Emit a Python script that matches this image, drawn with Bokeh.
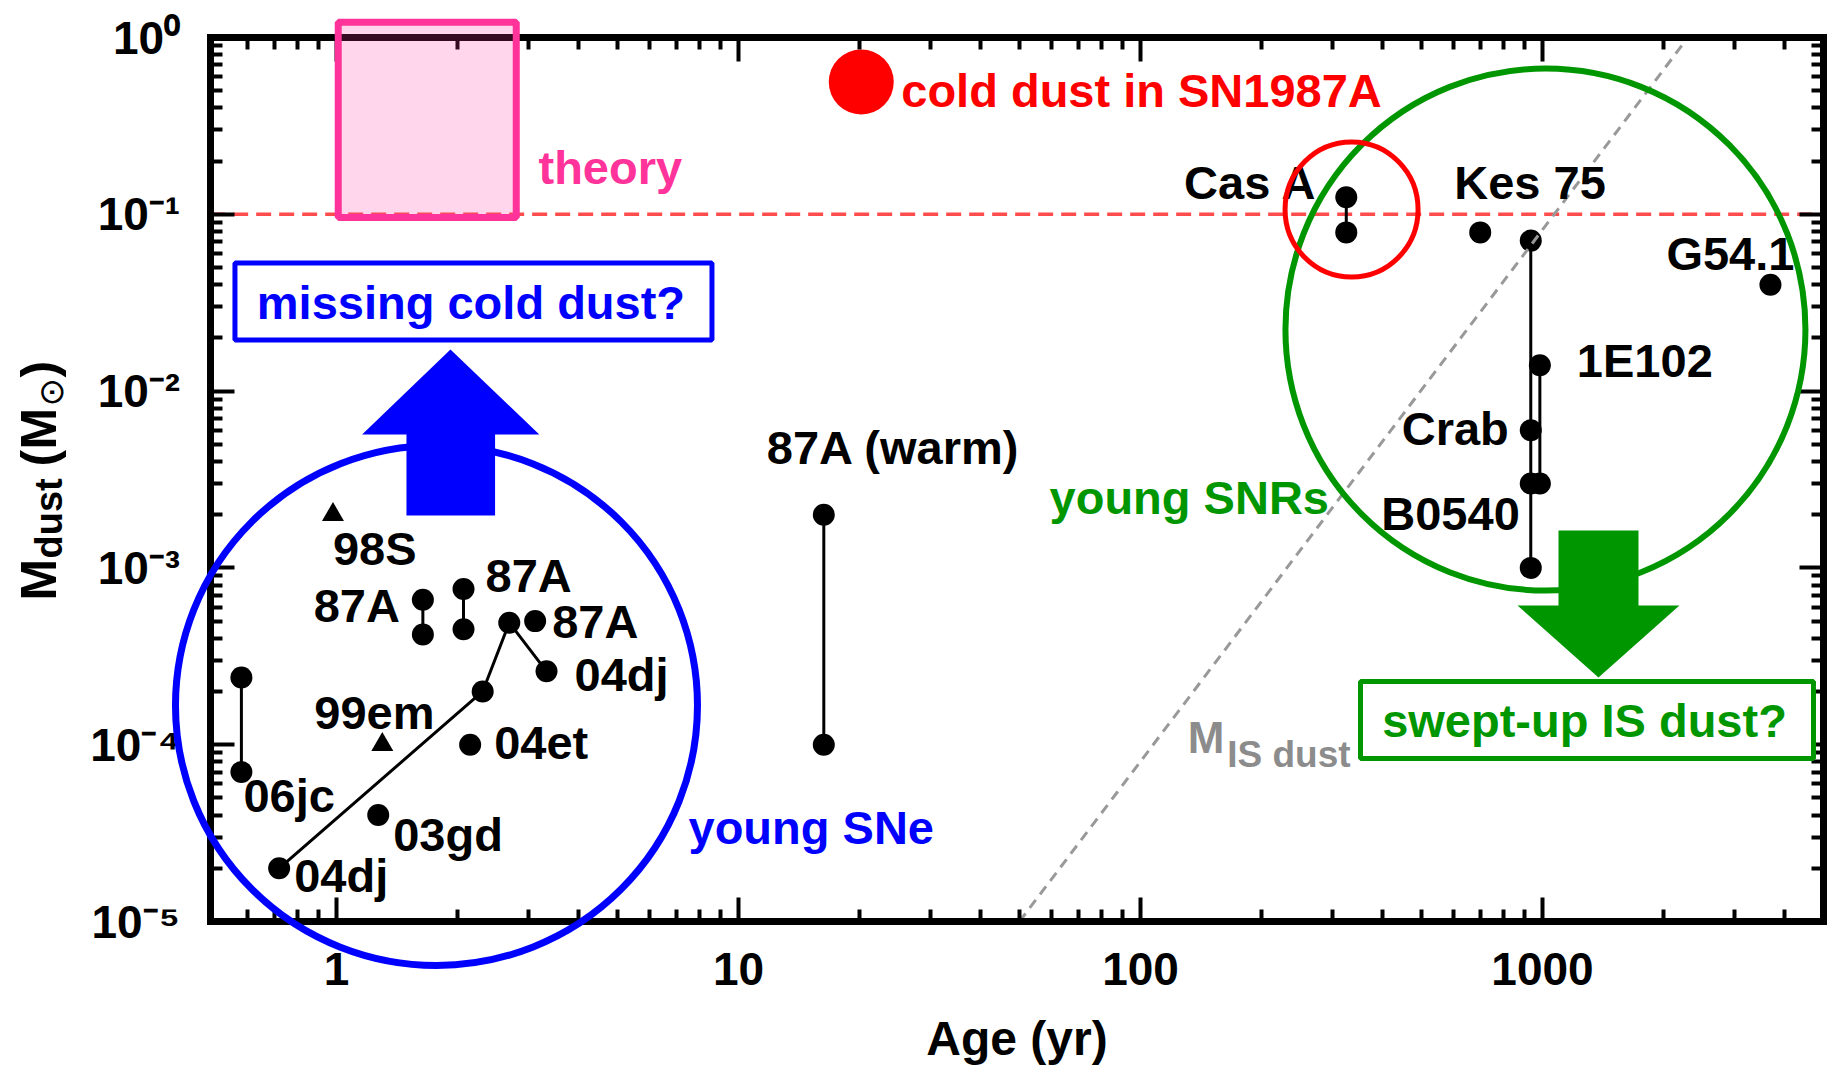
import math

from bokeh.plotting import figure
from bokeh.models import Range1d, LogAxis, FixedTicker, ColumnDataSource, CustomJSTickFormatter
from bokeh.core.properties import value
from bokeh.embed import file_html
from bokeh.resources import INLINE

# ---------------- dust mass (Msun) against age (yr) ----------------
# young supernovae
sn06jc_age, sn06jc_mass = [0.58, 0.58], [2.4e-4, 7.0e-5]
sn04dj_age, sn04dj_mass = [0.72, 2.31, 2.69, 3.33], [2.0e-5, 2.0e-4, 4.9e-4, 2.6e-4]
sn87a_a_age, sn87a_a_mass = [1.64, 1.64], [6.6e-4, 4.2e-4]
sn87a_b_age, sn87a_b_mass = [2.07, 2.07], [7.6e-4, 4.5e-4]
sn87a_c_age, sn87a_c_mass = [3.12], [5.0e-4]
sn04et_age, sn04et_mass = [2.15], [1.0e-4]
sn03gd_age, sn03gd_mass = [1.27], [4.0e-5]
sn98s_age, sn98s_mass = [0.98], [2.0e-3]
sn99em_age, sn99em_mass = [1.30], [1.0e-4]
sn87a_warm_age, sn87a_warm_mass = [16.3, 16.3], [2.0e-3, 1.0e-4]
sn87a_cold_age, sn87a_cold_mass = [20.2], [0.56]

# young supernova remnants
casa_age, casa_mass = [325, 325], [0.125, 0.079]
kes75_age, kes75_mass = [700], [0.079]
crab_age, crab_mass = [935, 935], [0.071, 0.006]
b0540_age, b0540_mass = [935, 935], [0.003, 0.001]
e0102_age, e0102_mass = [985, 985], [0.014, 0.003]
g541_age, g541_mass = [3690], [0.040]

# swept-up interstellar dust mass
mis_age, mis_mass = [50, 2300], [1.0e-5, 1.0]

# predicted range from theory
theory_age = [1.01, 2.80]
theory_mass = [0.096, 1.22]

# reference level of 0.1 Msun
ref_mass = 0.1

# axes
x_bounds = (0.485, 5000)
y_bounds = (1e-5, 1.0)
x_major = [1, 10, 100, 1000]
x_major_labels = ["1", "10", "100", "1000"]
x_minor = [k * 10.0 ** e for e in range(-1, 4) for k in range(2, 10)
           if 0.55 < k * 10.0 ** e < 4500]
y_major = [1e-5, 1e-4, 1e-3, 1e-2, 1e-1, 1.0]
y_major_labels = ["10\u207b\u2075", "10\u207b\u2074", "10\u207b\u00b3",
                  "10\u207b\u00b2", "10\u207b\u00b9", "10\u2070"]
y_minor = [k * 10.0 ** e for e in range(-5, 0) for k in range(2, 10)]

# ---------------- canvas layout ----------------
W, H = 1835, 1074
X1_PX, X_DEC = 336.0, 402.0     # canvas column of age = 1 yr, px per decade
Y1_PX, Y_DEC = 37.0, 176.8      # canvas row of 1 Msun, px per decade


def at(px, py):
    """Canvas pixel position -> (age, mass)."""
    return 10 ** ((px - X1_PX) / X_DEC), 10 ** ((Y1_PX - py) / Y_DEC)


x_lo, y_lo = at(0, H)
x_hi, y_hi = at(W, 0)

p = figure(width=W, height=H, x_axis_type="log", y_axis_type="log",
           x_range=Range1d(x_lo, x_hi), y_range=Range1d(y_lo, y_hi),
           output_backend="svg", toolbar_location=None, min_border=0, title=None)
p.outline_line_color = None
p.background_fill_color = "white"
p.border_fill_color = "white"
p.grid.visible = False

FONT = value("Liberation Sans")
BLUE, GREEN, RED, PINK, GRAY = "#0000ff", "#009600", "#ff0000", "#ff3399", "#8c8c8c"

# ---------------- axes drawn as a closed frame ----------------
ax_bottom = p.xaxis[0]
ax_left = p.yaxis[0]
ax_top = LogAxis()
ax_right = LogAxis()
p.add_layout(ax_top, "above")
p.add_layout(ax_right, "right")

for ax in (ax_bottom, ax_top):
    ax.ticker = FixedTicker(ticks=x_major, minor_ticks=x_minor)
    ax.bounds = x_bounds
for ax in (ax_left, ax_right):
    ax.ticker = FixedTicker(ticks=y_major, minor_ticks=y_minor)
    ax.bounds = y_bounds

ax_bottom.fixed_location = y_bounds[0]
ax_top.fixed_location = y_bounds[1]
ax_left.fixed_location = x_bounds[0]
ax_right.fixed_location = x_bounds[1]

for ax in (ax_bottom, ax_top, ax_left, ax_right):
    ax.axis_line_width = 7
    ax.axis_line_color = "black"
    ax.axis_line_cap = "square"
    ax.major_tick_in = 24
    ax.major_tick_out = 0
    ax.minor_tick_in = 12
    ax.minor_tick_out = 0
    ax.major_tick_line_width = 4
    ax.minor_tick_line_width = 4
    ax.major_label_text_font = "Liberation Sans"
    ax.major_label_text_font_style = "bold"
    ax.major_label_text_font_size = "46px"
    ax.major_label_text_color = "black"

for ax in (ax_top, ax_right):
    ax.formatter = CustomJSTickFormatter(code="return ''")

ax_bottom.major_label_overrides = dict(zip(x_major, x_major_labels))
ax_bottom.major_label_standoff = 31
ax_bottom.axis_label = "Age (yr)"
ax_bottom.axis_label_text_font = "Liberation Sans"
ax_bottom.axis_label_text_font_style = "bold"
ax_bottom.axis_label_text_font_size = "48px"
ax_bottom.axis_label_text_color = "black"
ax_bottom.axis_label_standoff = 24

ax_left.major_label_overrides = dict(zip(y_major, y_major_labels))
ax_left.major_label_standoff = 30

# y-axis title: M_dust (M_sun), built from pieces so the subscripts sit low
title_pieces = [
    ("M", 38, 600, "50px", "Liberation Sans", "bold"),
    ("dust", 48, 558, "38px", "Liberation Sans", "bold"),
    ("(", 38, 466, "50px", "Liberation Sans", "bold"),
    ("M", 38, 449, "50px", "Liberation Sans", "bold"),
    ("\u2299", 50, 406, "34px", "DejaVu Sans", "normal"),
    (")", 38, 377, "50px", "Liberation Sans", "bold"),
]
for txt, px, py, size, font, style in title_pieces:
    tx, ty = at(px, py)
    p.text(x=[tx], y=[ty], text=[txt], angle=math.pi / 2,
           text_font=value(font), text_font_style=style, text_font_size=size,
           text_color="black", text_align="left", text_baseline="alphabetic")

# ---------------- reference level and data ----------------
p.line(list(x_bounds), [ref_mass, ref_mass], line_color="#ff4d4d", line_width=3.5,
       line_dash="15 8")

for ages, masses in [(sn06jc_age, sn06jc_mass), (sn04dj_age, sn04dj_mass),
                     (sn87a_a_age, sn87a_a_mass), (sn87a_b_age, sn87a_b_mass),
                     (sn87a_warm_age, sn87a_warm_mass), (casa_age, casa_mass),
                     (crab_age + b0540_age, crab_mass + b0540_mass),
                     (e0102_age, e0102_mass)]:
    p.line(ages, masses, line_color="black", line_width=3)

dot_age = (sn06jc_age + sn04dj_age + sn87a_a_age + sn87a_b_age + sn87a_c_age +
           sn04et_age + sn03gd_age + sn87a_warm_age + casa_age + kes75_age +
           crab_age + b0540_age + e0102_age + g541_age)
dot_mass = (sn06jc_mass + sn04dj_mass + sn87a_a_mass + sn87a_b_mass + sn87a_c_mass +
            sn04et_mass + sn03gd_mass + sn87a_warm_mass + casa_mass + kes75_mass +
            crab_mass + b0540_mass + e0102_mass + g541_mass)
p.scatter(dot_age, dot_mass, marker="circle", size=22, fill_color="black", line_color=None)
p.scatter(sn98s_age + sn99em_age, sn98s_mass + sn99em_mass, marker="triangle", size=22,
          fill_color="black", line_color=None)

# interstellar dust swept up by the remnant
p.line(mis_age, mis_mass, line_color="#999999", line_width=3, line_dash="10 7")

# cold dust in SN 1987A
p.scatter(sn87a_cold_age, sn87a_cold_mass, marker="circle", size=65,
          fill_color=RED, line_color=None)

# ---------------- object labels ----------------
left_labels = dict(
    x=sn98s_age + sn87a_b_age[:1] + sn87a_c_age + sn04dj_age[3:] + sn99em_age +
      sn04et_age + sn06jc_age[1:] + sn03gd_age + sn04dj_age[:1] + sn87a_warm_age[:1] +
      kes75_age + e0102_age[:1],
    y=sn98s_mass + sn87a_b_mass[:1] + sn87a_c_mass + sn04dj_mass[3:] + sn99em_mass +
      sn04et_mass + sn06jc_mass[1:] + sn03gd_mass + sn04dj_mass[:1] + sn87a_warm_mass[:1] +
      kes75_mass + e0102_mass[:1],
    text=["98S", "87A", "87A", "04dj", "99em", "04et", "06jc", "03gd", "04dj",
          "87A (warm)", "Kes 75", "1E102"],
    dx=[0, 22, 17, 28, -68, 24, 2, 15, 15, -57, -26, 37],
    dy=[34, -13, 0, 3, -32, -2, 23, 19, 7, -67, -50, -5],
)
right_labels = dict(
    x=sn87a_a_age[:1] + casa_age[:1] + g541_age + crab_age[1:] + b0540_age[:1],
    y=sn87a_a_mass[:1] + casa_mass[:1] + g541_mass + crab_mass[1:] + b0540_mass[:1],
    text=["87A", "Cas A", "G54.1", "Crab", "B0540"],
    dx=[-23, -29, 24, -22, -11],
    dy=[6, -15, -31, -2, 30],
)
for lab, align in ((left_labels, "left"), (right_labels, "right")):
    p.text(x="x", y="y", text="text", x_offset="dx", y_offset="dy",
           source=ColumnDataSource(lab), text_font=FONT, text_font_style="bold",
           text_font_size="47px", text_color="black", text_align=align,
           text_baseline="alphabetic")

p.text(x=sn87a_cold_age, y=sn87a_cold_mass, text=["cold dust in SN1987A"],
       x_offset=40, y_offset=8, text_font=FONT, text_font_style="bold",
       text_font_size="47px", text_color=RED, text_align="left",
       text_baseline="alphabetic")

# ---------------- callouts ----------------
big = dict(text_font=FONT, text_font_style="bold", text_font_size="47px",
           text_baseline="alphabetic")
p.text(x=[3.18], y=[0.184], text=["theory"], text_color=PINK, text_align="left", **big)
p.text(x=[7.51], y=[3.40e-5], text=["young SNe"], text_color=BLUE, text_align="left", **big)
p.text(x=[59.4], y=[2.50e-3], text=["young SNRs"], text_color=GREEN, text_align="left", **big)
p.text(x=[131], y=[1.10e-4], text=["M"], text_color=GRAY, text_align="left",
       text_font=FONT, text_font_style="bold", text_font_size="44px",
       text_baseline="alphabetic")
p.text(x=[164.3], y=[8.77e-5], text=["IS dust"], text_color=GRAY, text_align="left",
       text_font=FONT, text_font_style="bold", text_font_size="37px",
       text_baseline="alphabetic")

ov = dict(level="overlay")
# theoretical prediction box
p.quad(left=[theory_age[0]], right=[theory_age[1]], bottom=[theory_mass[0]],
       top=[theory_mass[1]], fill_color=PINK, fill_alpha=0.2, line_color=PINK,
       line_width=7, **ov)

# group outlines
p.ellipse(x=[1.773], y=[1.667e-4], width=522, height=520, width_units="screen",
          height_units="screen", fill_color=None, line_color=BLUE, line_width=7, **ov)
p.ellipse(x=[1017], y=[0.0223], width=520, height=522, width_units="screen",
          height_units="screen", fill_color=None, line_color=GREEN, line_width=6, **ov)
p.ellipse(x=[335], y=[0.1065], width=133, height=135, width_units="screen",
          height_units="screen", fill_color=None, line_color=RED, line_width=5, **ov)

# arrows
p.patch([1.493, 1.493, 1.158, 1.921, 3.195, 2.48, 2.48],
        [1.98e-3, 5.68e-3, 5.68e-3, 0.01719, 5.68e-3, 5.68e-3, 1.98e-3],
        fill_color=BLUE, line_color=None, **ov)
p.patch([1096, 1096, 866.6, 1378, 2191, 1733, 1733],
        [1.627e-3, 6.13e-4, 6.13e-4, 2.40e-4, 6.13e-4, 6.13e-4, 1.627e-3],
        fill_color=GREEN, line_color=None, **ov)

# question boxes
p.quad(left=[0.559], right=[8.59], bottom=[0.01945], top=[0.0530],
       fill_color="white", line_color=BLUE, line_width=5, **ov)
p.text(x=[2.16], y=[0.0319], text=["missing cold dust?"], text_color=BLUE,
       text_align="center", **big, **ov)
p.quad(left=[352.6], right=[4722], bottom=[8.35e-5], top=[2.278e-4],
       fill_color="white", line_color=GREEN, line_width=5, **ov)
p.text(x=[1272], y=[1.37e-4], text=["swept-up IS dust?"], text_color=GREEN,
       text_align="center", **big, **ov)

open("out.html", "w").write(file_html(p, INLINE))
